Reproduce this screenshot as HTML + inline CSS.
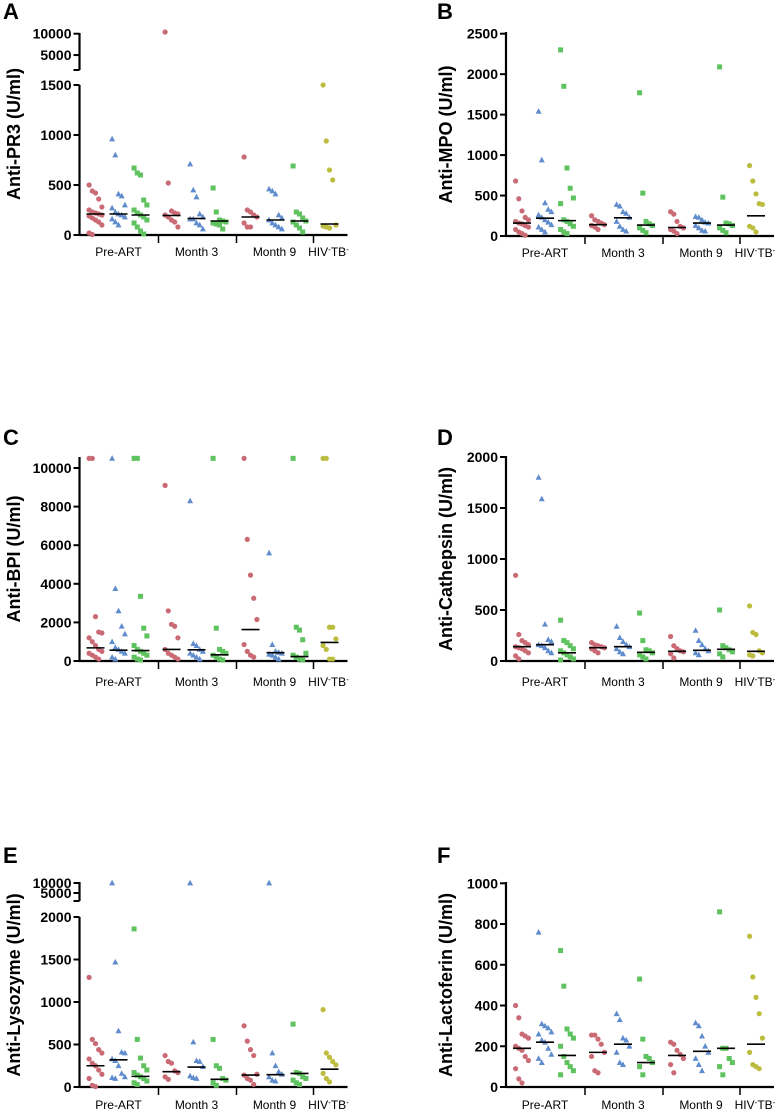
<!DOCTYPE html>
<html><head><meta charset="utf-8"><style>
html,body{margin:0;padding:0;background:#fff;}
svg{display:block;font-family:"Liberation Sans",Arial,sans-serif;}
</style></head><body>
<svg id="fig" width="778" height="1111" viewBox="0 0 778 1111"></svg>
<script>
// ---- data ----
const groups = ["Pre-ART","Month 3","Month 9","HIV-TB-"];
const seriesNames = ["pre-red","pre-blue","pre-green","m3-red","m3-blue","m3-green","m9-red","m9-blue","m9-green","hiv-yellow"];
const A_vals = [
 [500,440,420,360,280,250,230,220,210,200,190,170,150,130,100,20,5],
 [960,800,410,390,300,270,230,210,200,180,160,130,100],
 [670,620,600,350,300,250,220,200,180,150,120,80,40,10],
 [10400,520,240,220,210,200,180,150,130,80],
 [710,450,380,210,180,160,160,120,100,60],
 [470,230,150,140,130,120,110,100,60],
 [780,250,230,200,180,120,80,80],
 [460,440,410,200,170,150,120,100,80,60],
 [690,230,210,170,140,130,100,70,30],
 [1500,940,650,550,100,90,80,70]];
const A_med = [210,210,200,195,165,140,180,150,140,110];
const B_vals = [
 [680,460,310,230,200,180,160,150,130,110,80,50,30,10],
 [1540,940,410,330,300,260,230,200,170,140,110,80,50],
 [2300,1850,840,590,470,400,200,180,150,120,80,50,30],
 [250,200,180,160,140,130,110,80],
 [390,370,300,280,230,180,120,80,60],
 [1770,530,180,150,130,100,70,40],
 [300,270,180,120,100,80,60,30],
 [240,230,200,170,160,130,100,70,60],
 [2090,480,160,150,130,100,70,40],
 [870,680,520,400,390,120,100,50]];
const B_med = [160,220,190,140,225,135,105,160,135,250];
const C_vals = [
 [10500,10500,2300,1500,1450,1200,1000,800,600,500,400,300,200,100],
 [10500,3750,2600,1800,1400,1000,700,600,500,400,200,100],
 [10500,10500,3350,1700,1300,800,600,500,400,300,200,100,50],
 [9100,2600,1900,1800,1200,600,400,300,200,100],
 [8300,900,800,600,500,400,300,200,100],
 [10500,1700,600,500,400,300,200,100,50],
 [10500,6300,4450,3250,2150,850,500,300,200],
 [5600,850,500,450,400,350,300,200,100],
 [10500,1750,1600,1100,400,300,200,100,50],
 [10500,10500,1750,1750,1150,800,600,100,100]];
const C_med = [680,560,540,600,580,320,1630,430,230,960];
const D_vals = [
 [840,260,200,180,160,140,130,120,100,80,50,20],
 [1800,1590,360,210,190,160,150,130,100,80],
 [400,200,180,150,120,100,80,60,40,20,10],
 [180,160,150,140,130,120,100,80],
 [340,230,190,160,140,120,90,70],
 [470,200,110,100,80,60,40,20],
 [240,150,120,100,90,70,30],
 [300,200,160,120,100,80,60],
 [500,150,130,110,90,70,40],
 [540,280,260,100,80,60,50]];
const D_med = [140,160,80,130,140,85,95,105,115,95];
const E_vals = [
 [1290,560,510,440,400,330,280,250,200,150,100,20,5],
 [10000,1470,660,410,400,330,310,250,160,120,110,100],
 [1860,560,340,250,200,170,140,120,100,70,50,30],
 [370,300,280,190,170,120,90],
 [10000,530,310,300,240,130,110,100],
 [560,250,220,100,80,50,20],
 [720,540,440,370,150,140,100,80,30],
 [10000,400,250,180,150,120,80,70],
 [740,170,160,120,100,80,50,30],
 [910,400,350,300,260,160,100,60]];
const E_med = [250,320,125,180,235,90,140,145,160,210];
const F_vals = [
 [400,340,260,250,240,200,190,180,150,130,90,40,20],
 [760,310,300,290,270,260,230,220,190,160,140,120],
 [670,495,285,260,240,200,150,120,100,80,60],
 [255,255,235,210,170,150,80,70],
 [360,330,240,230,200,170,120,110],
 [530,235,150,140,120,100,60],
 [220,210,180,160,140,110,70],
 [315,300,250,200,170,140,110,80],
 [860,190,190,140,120,100,60],
 [740,540,440,360,240,170,110,100,90]];
const F_med = [190,220,155,170,210,120,155,175,190,210];
const A_ticks = [0,500,1000,1500]; const A_upTicks = [5000,10000];
const B_ticks = [0,500,1000,1500,2000,2500];
const C_ticks = [0,2000,4000,6000,8000,10000];
const D_ticks = [0,500,1000,1500,2000];
const E_ticks = [0,500,1000,1500,2000]; const E_upTicks = [5000,10000];
const F_ticks = [0,200,400,600,800,1000];

// ---- drawing ----
const NS="http://www.w3.org/2000/svg";
const svg=document.getElementById('fig');
function mk(tag,attrs,parent){const e=document.createElementNS(NS,tag);for(const k in attrs)e.setAttribute(k,attrs[k]);(parent||svg).appendChild(e);return e;}
const colors=["#c96a74","#5f8ccc","#5ec35e","#c96a74","#5f8ccc","#5ec35e","#c96a74","#5f8ccc","#5ec35e","#bcbc3e"];
const shapes=["c","t","s","c","t","s","c","t","s","c"];
const colOff=[16,39,61,92,117,140,171,196,220,250];
const sepOff=[79,157,234];
const labOff=[39,117,195,249];

function panel(cfg){
  const g=mk('g',{});
  
  
  const ax=cfg.ax, z=cfg.zero;
  const yLow=v=>z-(v/cfg.lowMax)*(z-cfg.lowTop);
  const y=v=>{ if(cfg.up && v>cfg.lowMax) return cfg.up.y0-(v-cfg.up.v0)/(cfg.up.v1-cfg.up.v0)*(cfg.up.y0-cfg.up.y1); return yLow(v);};
  const L=mk('text',{x:cfg.lx,y:cfg.ly,'font-size':22,'font-weight':'bold'},g);L.textContent=cfg.letter;
  
  const cy=(cfg.titleTop+z)/2;
  const T=mk('text',{x:cfg.tx,y:cy,'font-size':18,'font-weight':'bold','text-anchor':'middle',transform:`rotate(-90 ${cfg.tx} ${cy})`,'dominant-baseline':'central'},g);
  T.textContent=cfg.title;
  const yA=mk('g',{},g);
  mk('line',{x1:ax,x2:ax,y1:cfg.axTop,y2:z+1,stroke:'#000','stroke-width':2.2},yA);
  cfg.ticks.forEach(t=>{const yy=yLow(t);mk('line',{x1:ax-6,x2:ax,y1:yy,y2:yy,stroke:'#000','stroke-width':2},yA);
    const tx=mk('text',{x:ax-8,y:yy+5,'font-size':14,'font-weight':'bold','text-anchor':'end'},yA);tx.textContent=t;});
  if(cfg.up){
    mk('line',{x1:ax,x2:ax,y1:cfg.up.top,y2:cfg.up.y0,stroke:'#000','stroke-width':2.2},yA);
    mk('line',{x1:ax-6,x2:ax,y1:cfg.up.y0,y2:cfg.up.y0,stroke:'#000','stroke-width':2},yA);
    cfg.upTicks.forEach(t=>{const yy=y(t);mk('line',{x1:ax-6,x2:ax,y1:yy,y2:yy,stroke:'#000','stroke-width':2},yA);
      const tx=mk('text',{x:ax-8,y:yy+5,'font-size':14,'font-weight':'bold','text-anchor':'end'},yA);tx.textContent=t;});
  }
  const xA=mk('g',{},g);
  mk('line',{x1:ax-1,x2:ax+268,y1:z,y2:z,stroke:'#000','stroke-width':2.2},xA);
  sepOff.forEach(o=>mk('line',{x1:ax+o,x2:ax+o,y1:z,y2:z+8,stroke:'#000','stroke-width':1.5},xA));
  groups.forEach((gname,i)=>{
    const t=mk('text',{x:ax+labOff[i],y:z+cfg.ldy,'font-size':12,'text-anchor':'middle'},xA);
    
    if(i===3){t.innerHTML='HIV<tspan dy="-4" font-size="8">-</tspan><tspan dy="4">TB</tspan><tspan dy="-4" font-size="8">-</tspan>';}
    else t.textContent=gname;
  });
  cfg.vals.forEach((arr,si)=>{
    const sg=mk('g',{fill:colors[si]},g);
    
    const cx=ax+colOff[si];
    arr.forEach((v,i)=>{
      const px=cx+((i%5)-2)*3.2, py=y(v); let m;
      if(shapes[si]==='c') m=mk('circle',{cx:px,cy:py,r:2.6},sg);
      else if(shapes[si]==='s') m=mk('rect',{x:px-2.5,y:py-2.5,width:5,height:5},sg);
      else m=mk('polygon',{points:`${px},${py-3.2} ${px-3},${py+2.4} ${px+3},${py+2.4}`},sg);
      
      
    });
    const my=y(cfg.med[si]);
    const ml=mk('line',{x1:cx-9,x2:cx+9,y1:my,y2:my,stroke:'#000','stroke-width':1.6},sg);
    
    
  });
}
const LX=79.5, RX=506;
panel({letter:'A',lx:3,ly:19,title:'Anti-PR3 (U/ml)',tx:14,titleTop:33,ax:LX,zero:235,lowMax:1500,lowTop:85,axTop:85,ticks:A_ticks,
  up:{v0:1500,v1:10000,y0:70,y1:33.7,top:33},upTicks:A_upTicks,vals:A_vals,med:A_med,ldy:21});
panel({letter:'B',lx:437,ly:19,title:'Anti-MPO (U/ml)',tx:446,titleTop:33,ax:RX,zero:236,lowMax:2500,lowTop:33.7,axTop:32,ticks:B_ticks,vals:B_vals,med:B_med,ldy:21});
panel({letter:'C',lx:3,ly:445,title:'Anti-BPI (U/ml)',tx:14,titleTop:457,ax:LX,zero:661,lowMax:10000,lowTop:468,axTop:457,ticks:C_ticks,vals:C_vals,med:C_med,ldy:25});
panel({letter:'D',lx:437,ly:445,title:'Anti-Cathepsin (U/ml)',tx:446,titleTop:457,ax:RX,zero:661,lowMax:2000,lowTop:457,axTop:456,ticks:D_ticks,vals:D_vals,med:D_med,ldy:25});
panel({letter:'E',lx:3,ly:863,title:'Anti-Lysozyme (U/ml)',tx:14,titleTop:883,ax:LX,zero:1087,lowMax:2000,lowTop:917,axTop:917,ticks:E_ticks,
  up:{v0:1000,v1:10000,y0:901,y1:883,top:882},upTicks:E_upTicks,vals:E_vals,med:E_med,ldy:22});
panel({letter:'F',lx:437,ly:863,title:'Anti-Lactoferin (U/ml)',tx:446,titleTop:883,ax:RX,zero:1087,lowMax:1000,lowTop:883.3,axTop:882,ticks:F_ticks,vals:F_vals,med:F_med,ldy:22});
</script>
</body></html>
